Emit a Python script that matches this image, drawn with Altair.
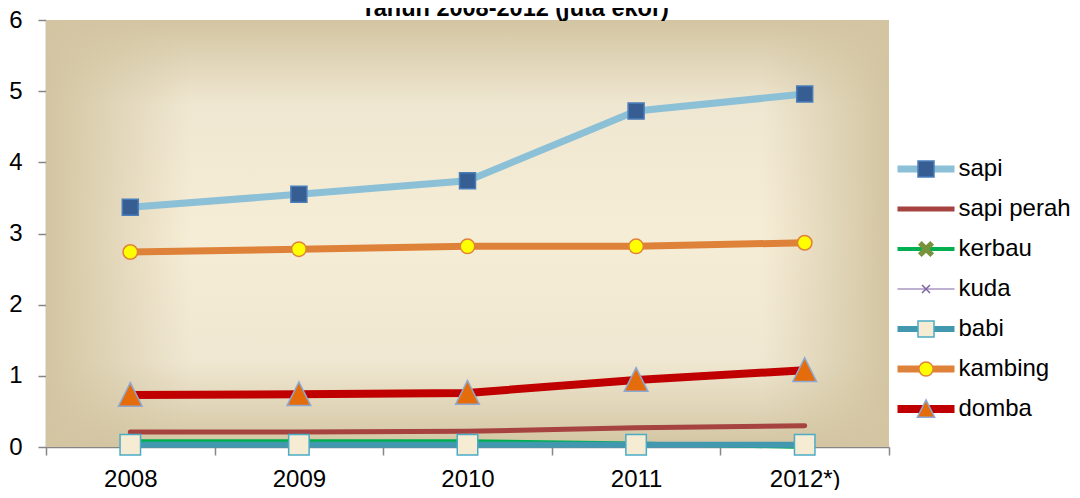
import altair as alt
import pandas as pd

# ---------------- data ----------------
judul = "Tahun 2008-2012 (juta ekor)"
tahun = ["2008", "2009", "2010", "2011", "2012*)"]
jenis = ["sapi", "sapi perah", "kerbau", "kuda", "babi", "kambing", "domba"]
sapi = [3.37, 3.55, 3.74, 4.72, 4.96]
sapi_perah = [0.21, 0.21, 0.22, 0.27, 0.30]
kerbau = [0.08, 0.08, 0.08, 0.05, 0.00]
kuda = [0.02, 0.02, 0.02, 0.02, 0.02]
babi = [0.03, 0.03, 0.03, 0.03, 0.03]
kambing = [2.74, 2.78, 2.82, 2.82, 2.87]
domba = [0.73, 0.74, 0.76, 0.94, 1.08]
nilai = [sapi, sapi_perah, kerbau, kuda, babi, kambing, domba]
y_ticks = [0, 1, 2, 3, 4, 5, 6]

# ---------------- styles ----------------
FONT = "Liberation Sans"
W, H = 843, 427
warna_garis = ["#8CC0D6", "#A6423F", "#00B050", "#7F62A1", "#4198AF", "#DF8239", "#C00000"]
tebal_garis = [7, 5, 4, 1, 6, 7, 8]
X_TEBAL = ("M-1,-0.62L-0.62,-1L0,-0.38L0.62,-1L1,-0.62L0.38,0L1,0.62L0.62,1"
           "L0,0.38L-0.62,1L-1,0.62L-0.38,0Z")
X_TIPIS = "M-1,-1L1,1M-1,1L1,-1"
SEGITIGA = "M0,-1.05L1,0.95L-1,0.95Z"
bentuk_marker = ["square", "circle", X_TEBAL, X_TIPIS, "square", "circle", SEGITIGA]
isi_marker = ["#375E93", "transparent", "#77933C", "#7F62A1", "#F6EBD3", "#FFFF00", "#E46C0A"]
tepi_marker = ["#4A7EBB", "transparent", "#77933C", "#7F62A1", "#4BACC6", "#E0823A", "#8EA8D4"]
ukuran_marker = [256, 0, 150, 64, 420, 210, 560]
ukuran_legenda = [256, 0, 196, 64, 256, 200, 300]

penanda = [j + " " for j in jenis]

rows = []
for i, (j, vals) in enumerate(zip(jenis, nilai)):
    for t, v in zip(tahun, vals):
        rows.append({"tahun": t, "jenis": j, "penanda": penanda[i], "nilai": v,
                     "lebar": tebal_garis[i], "ukuran": ukuran_marker[i]})
df = pd.DataFrame(rows)


def js_list(xs):
    return "[" + ",".join(repr(x) if isinstance(x, str) else str(x) for x in xs) + "]"


KEY = "(isString(datum) ? datum : datum.value)"
expr_tebal = f"{js_list(tebal_garis)}[indexof({js_list(jenis)}, {KEY})]"
expr_ukuran = f"{js_list(ukuran_legenda)}[indexof({js_list(penanda)}, {KEY})]"

leg_garis = alt.Legend(
    orient="none", legendX=847.5, legendY=135, title=None, columns=1, padding=0,
    symbolType="stroke", symbolSize=3249,
    symbolStrokeWidth=alt.ExprRef(expr=expr_tebal),
    symbolOffset=0, labelOffset=0, clipHeight=28, rowPadding=12,
    labelFont=FONT, labelFontSize=24, labelColor="#000000", labelLimit=300,
)
leg_marker = alt.Legend(
    orient="none", legendX=868, legendY=135, title=None, columns=1, padding=0,
    symbolSize=alt.ExprRef(expr=expr_ukuran),
    symbolOffset=0, labelOffset=0, clipHeight=28, rowPadding=12,
    labelFont=FONT, labelFontSize=24, labelExpr="''", labelLimit=300,
)

x_enc = alt.X(
    "tahun:O",
    scale=alt.Scale(type="band", domain=tahun, paddingInner=0, paddingOuter=0),
    bandPosition=0.5,
    axis=alt.Axis(title=None, labelAngle=0, tickBand="extent", labelPadding=12),
)
y_enc = alt.Y(
    "nilai:Q",
    scale=alt.Scale(domain=[0, 6], nice=False),
    axis=alt.Axis(title=None, values=y_ticks, labelPadding=16, format="d"),
)

# background (rectangular gradient look)
gelap = "#D3C5A2"
bg_v = alt.Chart(alt.Data(values=[{}])).mark_rect(
    fill=alt.Gradient(
        gradient="linear", x1=0, x2=0, y1=0, y2=1,
        stops=[alt.GradientStop(color=gelap, offset=0),
               alt.GradientStop(color="#EFE7D1", offset=0.2),
               alt.GradientStop(color="#F6EDD6", offset=0.5),
               alt.GradientStop(color="#EFE7D1", offset=0.8),
               alt.GradientStop(color=gelap, offset=1)]),
).encode(x=alt.value(0), x2=alt.value(W), y=alt.value(0), y2=alt.value(H))

bg_h = alt.Chart(alt.Data(values=[{}])).mark_rect(
    fill=alt.Gradient(
        gradient="linear", x1=0, x2=1, y1=0, y2=0,
        stops=[alt.GradientStop(color="rgba(211,197,162,1)", offset=0),
               alt.GradientStop(color="rgba(211,197,162,0)", offset=0.17),
               alt.GradientStop(color="rgba(211,197,162,0)", offset=0.85),
               alt.GradientStop(color="rgba(211,197,162,1)", offset=1)]),
).encode(x=alt.value(0), x2=alt.value(W), y=alt.value(0), y2=alt.value(H))

garis = alt.Chart(df).mark_line(strokeCap="round", strokeJoin="round").encode(
    x=x_enc,
    y=y_enc,
    color=alt.Color("jenis:N", scale=alt.Scale(domain=jenis, range=warna_garis), legend=leg_garis),
    strokeWidth=alt.StrokeWidth("lebar:Q", scale=None),
)

titik = alt.Chart(df).mark_point(filled=True, strokeWidth=1.5, opacity=1).encode(
    x=x_enc,
    y=y_enc,
    fill=alt.Fill("penanda:N", scale=alt.Scale(domain=penanda, range=isi_marker), legend=leg_marker),
    stroke=alt.Stroke("penanda:N", scale=alt.Scale(domain=penanda, range=tepi_marker), legend=leg_marker),
    shape=alt.Shape("penanda:N", scale=alt.Scale(domain=penanda, range=bentuk_marker), legend=leg_marker),
    size=alt.Size("ukuran:Q", scale=None),
)

teks_judul = alt.Chart(alt.Data(values=[{"teks": judul}])).mark_text(
    font=FONT, fontSize=23.5, fontWeight="bold", align="center", baseline="alphabetic", color="#000000"
).encode(text="teks:N", x=alt.value(469), y=alt.value(-4))

chart = alt.layer(bg_v, bg_h, garis, titik, teks_judul).properties(
    width=W, height=H,
    autosize=alt.AutoSizeParams(type="none"),
    padding={"left": 38, "top": 12, "right": 183, "bottom": 43},
).configure_axis(
    domainColor="#868686", tickColor="#868686", domainWidth=1.5, tickWidth=1.5, tickSize=8,
    labelFont=FONT, labelFontSize=24, labelColor="#000000", grid=False,
).configure_view(stroke=None)

chart.save("out.html", embed_options={"renderer": "svg", "actions": False})
